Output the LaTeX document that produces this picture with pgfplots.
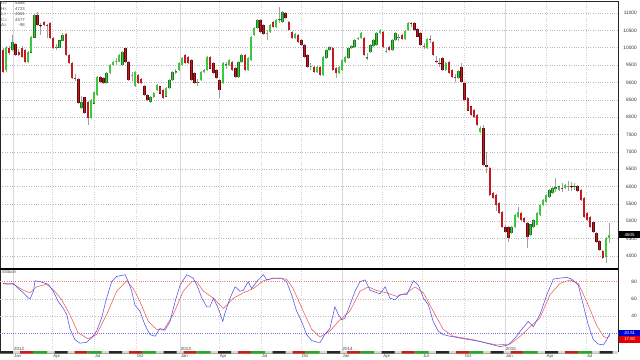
\documentclass[border=0pt]{standalone}
\usepackage{pgfplots}
\pgfplotsset{compat=1.18}
\usepackage{pgfplotstable}
\usepackage{fontspec}
\setmainfont{Liberation Sans}
\definecolor{cgreen}{RGB}{60,200,60}
\definecolor{cgreendk}{RGB}{30,120,30}
\definecolor{cred}{RGB}{195,25,35}
\definecolor{creddk}{RGB}{100,10,15}
\definecolor{sblue}{RGB}{80,80,240}
\definecolor{sred}{RGB}{240,90,80}
\definecolor{wick}{RGB}{160,160,160}
\definecolor{stripred}{RGB}{200,30,30}
\definecolor{stripgreen}{RGB}{40,170,40}

\pgfplotstableread{
k O H L C
0 9930 9990 9270 9300
1 9360 10050 9300 9990
2 9990 10050 9800 9850
3 9930 10370 9900 10160
4 10100 10130 9760 9790
5 9870 9950 9750 9790
6 9990 10050 9700 9730
7 9930 9960 9560 9590
8 9590 9900 9560 9870
9 9870 10330 9850 10300
10 10300 10970 10280 10940
11 10940 11030 10620 10650
12 10640 10700 10370 10620
13 10740 10780 10620 10650
14 10660 10680 10280 10640
15 10710 10740 10260 10280
16 10280 10310 9960 9990
17 10000 10120 9930 10010
18 10000 10230 9980 10200
19 10200 10420 10180 10360
20 10400 10430 9760 9790
21 9790 9820 9530 9560
22 9560 9590 9100 9130
23 9130 9250 9050 9110
24 9100 9130 8380 8410
25 8260 8600 8230 8440
26 8560 8590 8090 8120
27 8440 8470 7770 7980
28 7980 8520 7950 8490
29 8400 8750 8380 8720
30 8640 9190 8620 9160
31 9160 9190 8980 9010
32 9130 9160 8950 8980
33 8980 9300 8960 9270
34 9270 9530 9250 9500
35 9500 9620 9480 9590
36 9600 9700 9500 9610
37 9600 9820 9580 9790
38 9500 9900 9480 9870
39 9990 10030 9560 9590
40 9590 9620 9040 9070
41 9200 9300 9050 9210
42 8900 9330 8880 9300
43 9210 9240 8950 8980
44 9100 9130 8950 8980
45 8900 8930 8610 8640
46 8640 8670 8460 8490
47 8440 8610 8420 8580
48 8580 8730 8560 8700
49 8780 8960 8760 8930
50 8877 8900 8660 8687
51 8782 8810 8530 8552
52 8600 8860 8580 8830
53 8840 9100 8820 9070
54 9070 9330 9050 9300
55 9300 9400 9250 9310
56 9360 9590 9340 9560
57 9500 9730 9480 9700
58 9790 9820 9530 9560
59 9720 9750 9530 9560
60 9650 9680 9040 9070
61 9270 9300 8950 8980
62 9000 9100 8900 9010
63 9070 9330 9050 9300
64 9300 9390 9280 9360
65 9360 9760 9340 9730
66 9730 9760 9380 9410
67 9560 9590 9240 9270
68 9360 9390 9100 9130
69 9070 9100 8550 8780
70 8980 9590 8960 9560
71 9500 9600 9400 9510
72 9500 9680 9480 9650
73 9590 9620 9330 9360
74 9410 9440 9130 9160
75 9160 9620 9140 9590
76 9590 9820 9570 9790
77 9790 9820 9330 9360
78 9360 9730 9340 9700
79 9650 10340 9630 10310
80 10370 10600 10350 10570
81 10570 10830 10550 10800
82 10800 10830 10420 10450
83 10650 10680 10370 10400
84 10400 10500 10220 10410
85 10450 10680 10430 10650
86 10740 10770 10570 10600
87 10600 10830 10580 10800
88 10800 11180 10700 10810
89 10740 11060 10720 11030
90 11000 11030 10830 10860
91 10740 10770 10480 10510
92 10450 10480 10250 10280
93 10280 10420 10260 10390
94 10370 10400 10130 10160
95 10220 10250 10050 10080
96 10080 10110 9700 9730
97 9790 9820 9420 9450
98 9450 9550 9350 9460
99 9450 9480 9270 9300
100 9300 9480 9280 9450
101 9450 9480 9180 9210
102 9210 9760 9190 9730
103 9700 9960 9680 9930
104 9930 10050 9910 10020
105 9990 10020 9330 9360
106 9410 9440 9130 9270
107 9270 9480 9250 9450
108 9360 9680 9340 9650
109 9590 9760 9570 9730
110 9700 10020 9680 9990
111 9990 10080 9970 10050
112 10020 10250 10000 10220
113 10250 10310 10230 10280
114 10280 10450 10260 10420
115 10280 10310 9760 9790
116 9700 9850 9650 9710
117 9880 10110 9860 10080
118 10050 10250 10030 10220
119 10080 10450 10060 10420
120 10420 10540 10400 10510
121 10450 10480 9990 10020
122 9900 10000 9850 9910
123 10020 10050 9900 9930
124 9930 10250 9910 10220
125 10220 10450 10200 10420
126 10300 10400 10200 10310
127 10370 10400 10220 10250
128 10250 10510 10230 10480
129 10510 10740 10490 10710
130 10700 10740 10600 10690
131 10710 10740 10480 10510
132 10540 10570 10300 10330
133 10420 10450 10050 10080
134 10050 10150 9950 10040
135 9990 10280 9970 10250
136 10250 10380 10150 10240
137 10160 10190 9760 9790
138 9620 9750 9550 9610
139 9560 9700 9450 9550
140 9700 9730 9330 9360
141 9360 9590 9340 9560
142 9590 9620 9240 9270
143 9360 9390 9130 9160
144 9150 9250 9000 9140
145 9130 9360 9110 9330
146 9450 9560 8980 9010
147 8980 9010 8460 8490
148 8550 8580 8170 8200
149 8300 8330 8030 8060
150 8200 8230 7970 8000
151 8060 8090 7740 7770
152 7570 7750 7540 7690
153 7690 7780 6590 6620
154 6620 7000 6400 6560
155 6540 6570 5730 5760
156 5820 5850 5640 5670
157 5760 5790 5300 5470
158 5530 5560 5210 5240
159 5270 5300 4810 4840
160 4840 4900 4670 4700
161 4840 4870 4400 4520
162 4660 4870 4640 4840
163 4840 5210 4820 5180
164 5130 5410 5110 5270
165 5240 5270 5010 5040
166 5100 5130 4960 4990
167 4950 4980 4230 4550
168 4610 4930 4590 4900
169 4840 5070 4820 5040
170 4900 5270 4880 5240
171 5180 5500 5160 5470
172 5470 5640 5450 5610
173 5560 5790 5540 5760
174 5700 5930 5680 5900
175 5820 5990 5800 5960
176 5950 6250 5850 5970
177 5900 6030 5880 6000
178 5960 6100 5850 5950
179 5960 6080 5940 6050
180 6000 6150 5880 6010
181 6000 6120 5870 5990
182 5990 6100 5900 6000
183 6020 6050 5850 5880
184 5900 5930 5580 5610
185 5670 5700 5100 5130
186 5240 5270 5010 5040
187 5130 5160 4810 4840
188 4980 5010 4670 4700
189 4660 4690 4370 4400
190 4430 4460 4140 4170
191 4140 4170 3920 3950
192 3970 4560 3800 4520
193 4530 4950 4380 4610
}\candles

\pgfplotstableread{
k v
0 78
1.2 77
3.3 78
4.9 72
6.5 67
8.1 61
8.6 60
9.7 69
10.2 81
11.8 80
14.4 77
16.0 69
17.6 57
19.2 49
20.3 42
21.3 26
22.9 13
24.5 9
26.6 10
28.2 15
29.8 23
31.4 38
33.0 61
34.6 80
36.2 86
38.9 88
39.9 80
41.0 69
42.0 53
43.6 46
45.2 30
46.8 19
48.4 17
50.0 26
51.6 24
53.2 34
54.8 57
56.4 76
58.5 88
60.6 84
62.2 72
63.3 61
64.9 51
65.9 51
67.0 61
68.6 49
70.0 34
70.7 44
72.3 61
73.9 74
75.5 69
76.5 70
78.1 80
79.2 72
80.8 80
82.9 88
84.0 82
86.1 84
88.7 84
90.3 80
91.9 65
93.5 46
95.1 34
96.7 19
98.3 12
100.4 10
101.0 10
102.5 19
104.1 26
105.7 51
106.8 42
107.9 36
108.9 38
110.5 53
112.1 69
113.7 80
115.3 82
116.9 70
118.5 68
120.1 66
121.7 74
123.2 61
124.8 59
126.4 65
128.6 65
130.7 81
132.3 76
133.9 61
135.5 53
137.0 34
138.6 23
140.2 19
142.4 17
145.5 15
148.7 13
151.9 11
155.1 8
158.3 5
160.9 7
163.1 15
165.2 25
167.3 34
168.9 28
171.0 42
173.2 65
175.3 83
177.4 84
179.5 85
181.1 83
183.2 76
184.8 53
186.4 30
188.0 13
189.6 8
191.2 7
192.3 13
193.3 20.5
}\stochK

\pgfplotstableread{
k v
0 78
3.3 77
6.5 70
8.6 67
10.7 74
13.9 77
16.5 69
18.7 59
21.3 42
23.9 21
27.1 14
29.8 19
33.0 42
36.2 69
39.4 81
41.5 72
43.6 57
46.3 34
48.9 25
51.1 24
54.2 42
57.4 69
60.1 80
61.7 80
63.8 69
67.0 61
70.2 49
73.4 61
76.5 67
79.7 72
82.9 81
86.1 84
90.3 83
92.4 72
95.6 46
98.3 25
100.9 16
104.1 23
107.3 36
110.5 46
113.7 69
116.3 74
118.9 70
122.2 67
125.4 63
128.6 67
131.2 74
133.9 67
137.0 46
140.2 25
143.4 17
146.6 15
149.8 13
153.0 10
157.2 7
161.5 8
164.7 17
167.9 28
171.0 38
174.2 65
177.4 78
180.6 82
183.2 78
185.9 57
189.0 30
191.2 17
192.3 15
193.3 17.8
}\stochD

\begin{document}
\begin{tikzpicture}
\path[use as bounding box] (0pt,0pt) rectangle (640pt,359pt);
% ---------------- main price panel
\begin{axis}[
  at={(0pt,90pt)}, anchor=south west, scale only axis,
  width=618pt, height=268pt,
  xmin=-0.96, xmax=195.86, ymin=3627, ymax=11346,
  clip mode=individual,
  scaled y ticks=false, scaled x ticks=false,
  xtick={3.3,56.4,107.9,159.9}, xticklabel=\empty,
  minor xtick={15.8,29.0,42.4,68.8,82.2,94.9,120.9,133.6,146.8,172.9,185.7},
  xmajorgrids, xminorgrids, ymajorgrids,
  major x grid style={gray!30, line width=0.6pt},
  minor x grid style={gray!35, dotted, line width=0.5pt},
  major y grid style={gray!55, dotted, line width=0.5pt},
  ytick={4000,4500,5000,5500,6000,6500,7000,7500,8000,8500,9000,9500,10000,10500,11000},
  yticklabels={4000,4500,5000,5500,6000,6500,7000,7500,8000,8500,9000,9500,10000,10500,11000},
  yticklabel pos=right,
  yticklabel style={anchor=east, xshift=19pt, inner sep=0pt, text=black!80, font=\fontsize{4.8}{5}\selectfont},
  major tick length=0pt, minor tick length=0pt,
  axis line style={black!85, line width=0.8pt},
]
\addplot[wick, line width=0.5pt, -, quiver={u=0, v=\thisrow{H}-\thisrow{L}}] table[x=k, y=L] {\candles};
\addplot[cgreendk, line width=2.4pt, -, shorten <=-0.3pt, shorten >=-0.3pt, quiver={u=0, v=\thisrow{C}-\thisrow{O}},
  restrict expr to domain={\thisrow{C}-\thisrow{O}}{1:100000}] table[x=k, y=O] {\candles};
\addplot[cgreen, line width=1.6pt, -, quiver={u=0, v=\thisrow{C}-\thisrow{O}},
  restrict expr to domain={\thisrow{C}-\thisrow{O}}{1:100000}] table[x=k, y=O] {\candles};
\addplot[creddk, line width=2.4pt, -, shorten <=-0.3pt, shorten >=-0.3pt, quiver={u=0, v=\thisrow{C}-\thisrow{O}},
  restrict expr to domain={\thisrow{C}-\thisrow{O}}{-100000:-1}] table[x=k, y=O] {\candles};
\addplot[cred, line width=1.6pt, -, quiver={u=0, v=\thisrow{C}-\thisrow{O}},
  restrict expr to domain={\thisrow{C}-\thisrow{O}}{-100000:-1}] table[x=k, y=O] {\candles};
\end{axis}
% ---------------- stochastic panel
\begin{axis}[
  at={(0pt,8pt)}, anchor=south west, scale only axis,
  width=618pt, height=82pt,
  xmin=-0.96, xmax=195.86, ymin=0, ymax=94.6,
  clip mode=individual,
  scaled y ticks=false, scaled x ticks=false,
  xtick={3.3,56.4,107.9,159.9}, xticklabel=\empty,
  minor xtick={15.8,29.0,42.4,68.8,82.2,94.9,120.9,133.6,146.8,172.9,185.7},
  xmajorgrids, xminorgrids,
  major x grid style={gray!30, line width=0.6pt},
  minor x grid style={gray!35, dotted, line width=0.5pt},
  ytick={40,60,80}, yticklabels={40,60,80},
  yticklabel pos=right,
  yticklabel style={anchor=east, xshift=19pt, inner sep=0pt, text=black!80, font=\fontsize{4.8}{5}\selectfont},
  major tick length=0pt, minor tick length=0pt,
  axis line style={black!85, line width=0.8pt},
]
\addplot[gray!55, dotted, line width=0.5pt] coordinates {(-0.96,40) (195.86,40)};
\addplot[gray!55, dotted, line width=0.5pt] coordinates {(-0.96,60) (195.86,60)};
\addplot[sred!80, dash pattern=on 1pt off 1.2pt, line width=0.6pt] coordinates {(-0.96,80) (195.86,80)};
\addplot[sblue!80, dash pattern=on 1pt off 1.2pt, line width=0.6pt] coordinates {(-0.96,20) (195.86,20)};
\addplot[sred, line width=0.55pt] table[x=k, y=v] {\stochD};
\addplot[sblue, line width=0.55pt] table[x=k, y=v] {\stochK};
\node[anchor=south west, inner sep=0.6pt, text=black!75, font=\fontsize{4.5}{5}\selectfont] at (axis cs:3.3,0) {2012};
\node[anchor=south west, inner sep=0.6pt, text=black!75, font=\fontsize{4.5}{5}\selectfont] at (axis cs:56.4,0) {2013};
\node[anchor=south west, inner sep=0.6pt, text=black!75, font=\fontsize{4.5}{5}\selectfont] at (axis cs:107.9,0) {2014};
\node[anchor=south west, inner sep=0.6pt, text=black!75, font=\fontsize{4.5}{5}\selectfont] at (axis cs:159.9,0) {2015};
\end{axis}
% ---------------- month strip
\begin{axis}[
  at={(0pt,5.3pt)}, anchor=south west, scale only axis,
  width=618pt, height=2.7pt,
  xmin=-0.96, xmax=195.86, ymin=0, ymax=1,
  scaled y ticks=false, scaled x ticks=false,
  axis background/.style={fill=gray!30},
  axis line style={draw=none},
  ytick=\empty,
  xtick={3.3,15.8,29.0,42.4,56.4,68.8,82.2,94.9,107.9,120.9,133.6,146.8,159.9,172.9,185.7},
  xticklabels={Jan,Apr,Jul,Oct,Jan,Apr,Jul,Oct,Jan,Apr,Jul,Oct,Jan,Apr,Jul},
  xticklabel style={anchor=north west, inner sep=0pt, xshift=0.6pt, yshift=-0.4pt, text=black!75, font=\fontsize{4.3}{5}\selectfont},
  major tick length=0pt,
]
\addplot[ybar interval, fill=black!85, draw=none] coordinates {(-0.96,1) (3.18,0) (16.40,1) (20.54,0) (33.76,1) (37.90,0) (51.12,1) (55.26,0) (68.48,1) (72.62,0) (85.84,1) (89.98,0) (103.20,1) (107.34,0) (120.56,1) (124.70,0) (137.92,1) (142.06,0) (155.28,1) (159.42,0) (172.64,1) (176.78,0) (190.00,1) (194.14,0)};
\addplot[ybar interval, fill=stripred, draw=none] coordinates {(5.41,1) (9.54,0) (22.77,1) (26.90,0) (40.13,1) (44.26,0) (57.49,1) (61.62,0) (74.85,1) (78.98,0) (92.21,1) (96.34,0) (109.57,1) (113.70,0) (126.93,1) (131.06,0) (144.29,1) (148.42,0) (161.65,1) (165.78,0) (179.01,1) (183.14,0)};
\addplot[ybar interval, fill=stripgreen, draw=none] coordinates {(9.54,1) (14.01,0) (26.90,1) (31.37,0) (44.26,1) (48.73,0) (61.62,1) (66.09,0) (78.98,1) (83.45,0) (96.34,1) (100.81,0) (113.70,1) (118.17,0) (131.06,1) (135.53,0) (148.42,1) (152.89,0) (165.78,1) (170.25,0) (183.14,1) (187.61,0)};
\end{axis}
% separator and labels
\draw[black, line width=1.5pt] (0pt,90pt) -- (618pt,90pt);
\node[anchor=north west, inner sep=0.5pt, text=black!75, font=\fontsize{4.3}{5}\selectfont] at (1.5pt,89pt) {SStoch};
\node[anchor=west, fill=black, text=white, inner sep=0pt, minimum width=21pt, minimum height=7pt, font=\fontsize{4.5}{5}\selectfont] at (619pt,124pt) {4605};
\node[anchor=west, fill=blue!85!black, text=white, inner sep=0pt, minimum width=21pt, minimum height=6.2pt, font=\fontsize{4.3}{5}\selectfont] at (619pt,26pt) {20.51};
\node[anchor=west, fill=red!90!black, text=white, inner sep=0pt, minimum width=21pt, minimum height=6.2pt, font=\fontsize{4.3}{5}\selectfont] at (619pt,19.5pt) {17.80};
\begin{scope}[every node/.style={inner sep=0pt, text=black!70, font=\fontsize{4.3}{4.8}\selectfont}]
\node[anchor=west] at (1pt,355.5pt) {O=};
\node[anchor=west] at (1pt,350pt) {H=};
\node[anchor=west] at (1pt,344.5pt) {L=};
\node[anchor=west] at (1pt,339pt) {C=};
\node[anchor=west] at (1pt,333.5pt) {Δ=};
\node[anchor=east] at (25pt,355.5pt) {4668};
\node[anchor=east] at (25pt,350pt) {4723};
\node[anchor=east] at (25pt,344.5pt) {4561};
\node[anchor=east] at (25pt,339pt) {4577};
\node[anchor=east] at (25pt,333.5pt) {-98};
\end{scope}
\end{tikzpicture}
\end{document}
